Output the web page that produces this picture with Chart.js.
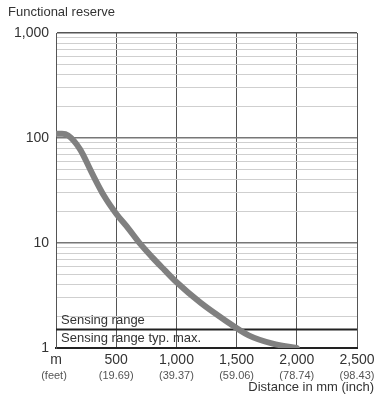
<!DOCTYPE html>
<html><head><meta charset="utf-8">
<script src="https://cdn.jsdelivr.net/npm/chart.js@4.4.0/dist/chart.umd.min.js"></script>
<style>html,body{margin:0;padding:0;background:#fff}#wrap{width:376px;height:396px}</style>
</head><body><div id="wrap"><canvas id="c" width="376" height="396"></canvas></div>
<script>
const distanceMm = [0, 50, 100, 200, 300, 400, 500, 600, 700, 800, 900, 1000, 1200, 1400, 1600, 1800, 2000];
const reserve = [110, 110, 106, 78, 46, 28, 19, 13.8, 9.8, 7.3, 5.55, 4.25, 2.7, 1.85, 1.32, 1.1, 1.0];
const sensingMaxX = [0, 2500];
const sensingMaxY = [1.5, 1.5];
const xTickValues = [0, 500, 1000, 1500, 2000, 2500];
const xTickLabels = ['m', '500', '1,000', '1,500', '2,000', '2,500'];
const xInchLabels = ['(feet)', '(19.69)', '(39.37)', '(59.06)', '(78.74)', '(98.43)'];
const yTickValues = [1,2,3,4,5,6,7,8,9,10,20,30,40,50,60,70,80,90,100,200,300,400,500,600,700,800,900,1000];
const yLabeled = {1:'1', 10:'10', 100:'100', 1000:'1,000'};
const FONT = "'Liberation Sans', Arial, sans-serif";

const textPlugin = {
  id: 'texts',
  afterDraw(chart) {
    const ctx = chart.ctx;
    const xs = chart.scales.x, ys = chart.scales.y;
    ctx.save();
    ctx.fillStyle = '#333';
    ctx.font = '13px ' + FONT;
    ctx.textBaseline = 'middle';
    ctx.textAlign = 'left';
    ctx.fillText('Functional reserve', 8, 12);
    ctx.textAlign = 'right';
    ctx.fillText('Distance in mm (inch)', 374, 387);
    ctx.textAlign = 'left';
    const yl = ys.getPixelForValue(sensingMaxY[0]);
    ctx.fillText('Sensing range', xs.left + 5, yl - 9);
    ctx.fillText('Sensing range typ. max.', xs.left + 5, yl + 9);
    ctx.fillStyle = '#555';
    ctx.font = '11px ' + FONT;
    ctx.textAlign = 'center';
    xTickValues.forEach((v, i) => {
      ctx.fillText(xInchLabels[i], xs.getPixelForValue(v) - (i === 0 ? 2 : 0), 376);
    });
    ctx.restore();
  }
};

new Chart(document.getElementById('c'), {
  type: 'line',
  data: {
    datasets: [
      {
        data: distanceMm.map((d, i) => ({x: d, y: reserve[i]})),
        borderColor: '#808080', borderWidth: 6, pointRadius: 0,
        cubicInterpolationMode: 'monotone', borderCapStyle: 'round', fill: false
      },
      {
        data: sensingMaxX.map((d, i) => ({x: d, y: sensingMaxY[i]})),
        borderColor: '#222', borderWidth: 2, pointRadius: 0, fill: false
      }
    ]
  },
  options: {
    responsive: false, animation: false,
    layout: {padding: {left: 0, right: 19, top: 33, bottom: 0}},
    plugins: {legend: {display: false}, tooltip: {enabled: false}},
    scales: {
      x: {
        type: 'linear', min: 0, max: 2500,
        afterBuildTicks(s) { s.ticks = xTickValues.map(v => ({value: v})); },
        afterFit(s) { s.height = 48; s.paddingRight = 0; s.paddingLeft = 0; },
        ticks: {
          autoSkip: false, maxRotation: 0, padding: 4,
          color: '#333', font: {family: FONT, size: 14},
          callback: (v) => { const i = xTickValues.indexOf(v); return i >= 0 ? xTickLabels[i] : ''; }
        },
        grid: {color: '#555', lineWidth: 1, drawTicks: false},
        border: {color: '#222', width: 2}
      },
      y: {
        type: 'logarithmic', min: 1, max: 1000,
        afterBuildTicks(s) { s.ticks = yTickValues.map(v => ({value: v})); },
        afterFit(s) { s.width = 56; },
        ticks: {
          autoSkip: false, padding: 7,
          color: '#333', font: {family: FONT, size: 14},
          callback: (v) => yLabeled[v] || ''
        },
        grid: {
          drawTicks: false,
          color: (c) => { const v = c.tick && c.tick.value; if (v === 1000) return '#555'; if (v === 10 || v === 100) return '#777'; return '#cfcfcf'; },
          lineWidth: (c) => { const v = c.tick && c.tick.value; return (v === 10 || v === 100 || v === 1000) ? 1.5 : 1; }
        },
        border: {color: '#555', width: 1}
      }
    }
  },
  plugins: [textPlugin]
});
</script></body></html>
